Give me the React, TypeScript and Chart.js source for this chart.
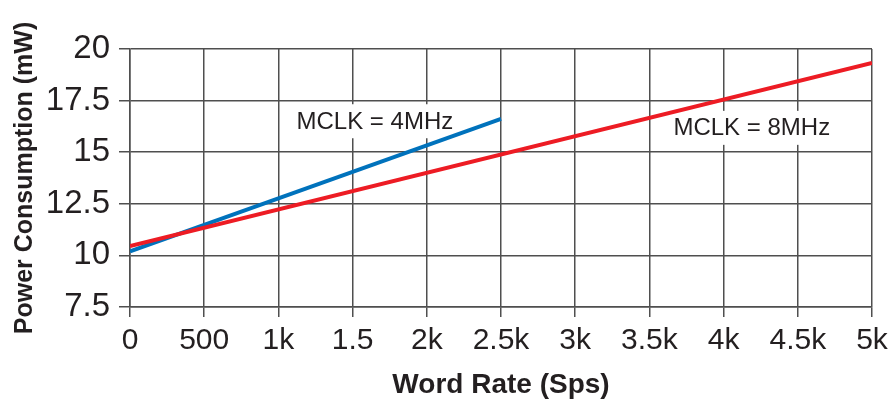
import React, { useEffect, useRef } from "react";
import { Chart, registerables } from "chart.js";

Chart.register(...registerables);

const wordRate4MHz = [0, 2500];
const power4MHz = [10.2, 16.62];
const wordRate8MHz = [0, 5000];
const power8MHz = [10.45, 19.33];

const xTickValues = [0, 500, 1000, 1500, 2000, 2500, 3000, 3500, 4000, 4500, 5000];
const xTickLabels = ["0", "500", "1k", "1.5", "2k", "2.5k", "3k", "3.5k", "4k", "4.5k", "5k"];
const yTickValues = [7.5, 10, 12.5, 15, 17.5, 20];
const yTickLabels = ["7.5", "10", "12.5", "15", "17.5", "20"];

const annotationTexts = ["MCLK = 4MHz", "MCLK = 8MHz"];
const annotationX = [1650, 4190];
const annotationY = [16.5, 16.18];

const FONT = "'Liberation Sans', Arial, Helvetica, sans-serif";
const TEXT = "#231f20";
const GRID = "#4f4f4f";

const labelPlugin = {
  id: "mclkLabels",
  beforeDatasetsDraw(chart: any) {
    const ctx = chart.ctx;
    const xs = chart.scales.x;
    const ys = chart.scales.y;
    ctx.save();
    ctx.font = `24px ${FONT}`;
    ctx.textAlign = "center";
    ctx.textBaseline = "middle";
    annotationTexts.forEach((t, i) => {
      const px = xs.getPixelForValue(annotationX[i]);
      const py = ys.getPixelForValue(annotationY[i]);
      const w = ctx.measureText(t).width;
      ctx.fillStyle = "#ffffff";
      ctx.fillRect(px - w / 2 - 6, py - 17, w + 12, 34);
      ctx.fillStyle = TEXT;
      ctx.fillText(t, px, py + 1);
    });
    ctx.restore();
  },
};

export default function App() {
  const ref = useRef<HTMLCanvasElement | null>(null);
  useEffect(() => {
    document.body.style.margin = "0";
    if (!ref.current) return;
    const chart = new Chart(ref.current, {
      type: "line",
      data: {
        datasets: [
          {
            label: "MCLK = 8MHz",
            data: wordRate8MHz.map((x, i) => ({ x, y: power8MHz[i] })),
            borderColor: "#ed1c24",
            borderWidth: 4,
            pointRadius: 0,
            fill: false,
          },
          {
            label: "MCLK = 4MHz",
            data: wordRate4MHz.map((x, i) => ({ x, y: power4MHz[i] })),
            borderColor: "#0072bc",
            borderWidth: 4,
            pointRadius: 0,
            fill: false,
          },
        ],
      },
      options: {
        animation: false,
        responsive: false,
        devicePixelRatio: 1,
        layout: { padding: { top: 49, right: 22, left: 0, bottom: 0 } },
        plugins: { legend: { display: false }, tooltip: { enabled: false } },
        scales: {
          x: {
            type: "linear",
            min: 0,
            max: 5000,
            afterFit: (s: any) => {
              s.height = 95;
            },
            afterBuildTicks: (s: any) => {
              s.ticks = xTickValues.map((v) => ({ value: v }));
            },
            ticks: {
              font: { family: FONT, size: 30 },
              color: TEXT,
              padding: 6,
              maxRotation: 0,
              autoSkip: false,
              callback: (v: any) => {
                const i = xTickValues.indexOf(Number(v));
                return i >= 0 ? xTickLabels[i] : "";
              },
            },
            grid: { color: GRID, lineWidth: 1.5, tickLength: 10, drawTicks: true },
            border: { display: true, color: GRID, width: 1.5 },
            title: {
              display: true,
              text: "Word Rate (Sps)",
              font: { family: FONT, size: 28, weight: "bold" },
              color: TEXT,
              padding: { top: 2, bottom: 0 },
            },
          },
          y: {
            type: "linear",
            min: 7.5,
            max: 20,
            afterFit: (s: any) => {
              s.width = 130;
            },
            afterBuildTicks: (s: any) => {
              s.ticks = yTickValues.map((v) => ({ value: v }));
            },
            ticks: {
              font: { family: FONT, size: 33 },
              color: TEXT,
              padding: 9,
              autoSkip: false,
              callback: (v: any) => {
                const i = yTickValues.indexOf(Number(v));
                return i >= 0 ? yTickLabels[i] : "";
              },
            },
            grid: { color: GRID, lineWidth: 1.5, tickLength: 11, drawTicks: true },
            border: { display: true, color: GRID, width: 1.5 },
            title: {
              display: true,
              text: "Power Consumption (mW)",
              font: { family: FONT, size: 25, weight: "bold" },
              color: TEXT,
              padding: { top: 10, bottom: 0 },
            },
          },
        },
      },
      plugins: [labelPlugin],
    });
    return () => chart.destroy();
  }, []);
  return (
    <div style={{ position: "absolute", left: 0, top: 0, width: 894, height: 402, background: "#fff" }}>
      <canvas ref={ref} width={894} height={402} style={{ width: 894, height: 402 }} />
    </div>
  );
}
